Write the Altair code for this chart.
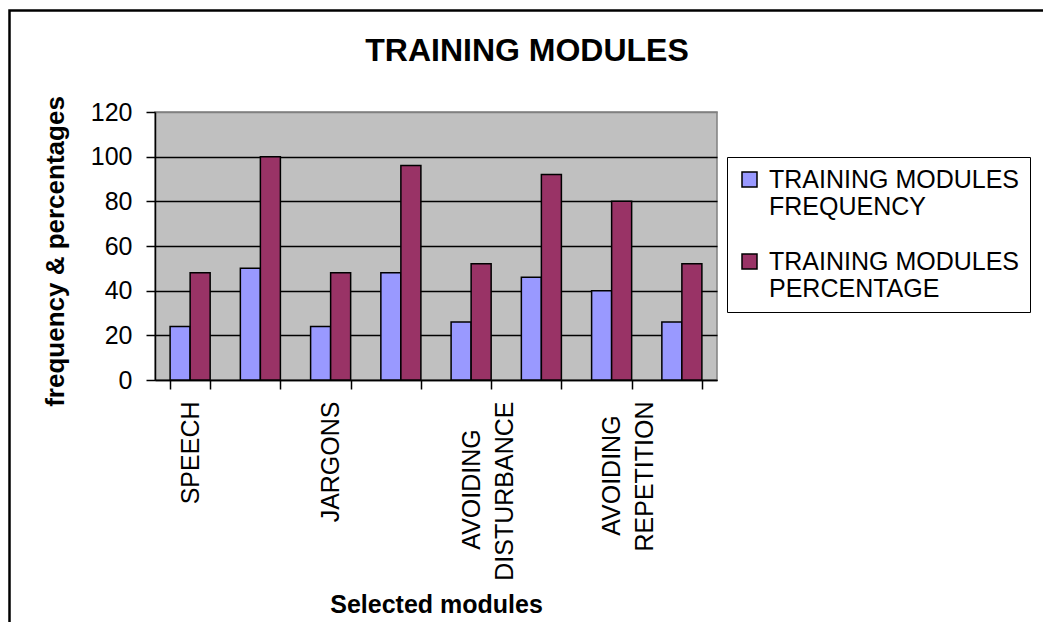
import json
import altair as alt
import pandas as pd

# ---- data ----
modules = ["SPEECH", "", "JARGONS", "", "AVOIDING DISTURBANCE", "", "AVOIDING REPETITION", ""]
frequency = [24, 50, 24, 48, 26, 46, 40, 26]
percentage = [48, 100, 48, 96, 52, 92, 80, 52]
series_names = ["TRAINING MODULES FREQUENCY", "TRAINING MODULES PERCENTAGE"]
series_colors = ["#9999FF", "#993366"]
y_ticks = [0, 20, 40, 60, 80, 100, 120]

rows = []
for i, m in enumerate(modules):
    rows.append({"idx": i, "module": m, "series": series_names[0], "value": frequency[i]})
    rows.append({"idx": i, "module": m, "series": series_names[1], "value": percentage[i]})
df = pd.DataFrame(rows)

FONT = "Liberation Sans"
NBSP = "\u00a0"
ZWSP = "\u200b"  # keeps the padding from being trimmed

# approximate Arial advance widths (em) for centring the shorter line
_W = {"A": .667, "B": .667, "C": .722, "D": .722, "E": .667, "G": .778, "I": .278,
      "N": .722, "O": .778, "P": .667, "R": .722, "S": .667, "T": .611, "U": .722, "V": .667}


def _width(s):
    return sum(_W.get(c, .667) for c in s)


def label_lines(name):
    # split two-word labels onto two lines, centre the shorter line (labels are end-aligned)
    if not name:
        return [""]
    parts = name.split(" ")
    if len(parts) == 1:
        return parts
    a, b = parts[0], " ".join(parts[1:])
    pad = max(0, round((_width(b) - _width(a)) / 2 / 0.278))
    return [a + NBSP * pad + ZWSP, b]


x_label_expr = json.dumps([label_lines(m) for m in modules], ensure_ascii=False) + "[datum.value]"

bars = alt.Chart(df).mark_bar(stroke="black", strokeWidth=1.5).encode(
    x=alt.X(
        "idx:O",
        scale=alt.Scale(paddingInner=0.43, paddingOuter=0.215),
        axis=alt.Axis(
            title="Selected modules",
            titleFont=FONT, titleFontSize=25, titleFontWeight="bold", titleColor="black",
            titleX=281, titleY=232, titleBaseline="alphabetic", titleAnchor="middle",
            labelExpr=x_label_expr,
            labelAngle=-90, labelAlign="right", labelBaseline="middle",
            labelFont=FONT, labelFontSize=25, labelColor="black", labelLineHeight=33,
            labelPadding=12, labelLimit=400,
            tickBand="extent", tickSize=9, tickColor="black", tickWidth=1.5,
            domainColor="black", domainWidth=1.5,
        ),
    ),
    xOffset=alt.XOffset("series:N", sort=series_names),
    y=alt.Y(
        "value:Q",
        scale=alt.Scale(domain=[0, 120], nice=False),
        axis=alt.Axis(
            title="frequency & percentages",
            titleFont=FONT, titleFontSize=26, titleFontWeight="bold", titleColor="black",
            titleX=-92, titleY=139, titleBaseline="alphabetic", titleAngle=-90, titleAnchor="middle",
            values=y_ticks,
            labelFont=FONT, labelFontSize=25, labelColor="black", labelPadding=14,
            tickSize=9, tickColor="black", tickWidth=1.5,
            domainColor="black", domainWidth=1.5,
            grid=True, gridWidth=1.5,
            gridColor={"condition": {"test": "datum.value === 120", "value": "#808080"}, "value": "black"},
        ),
    ),
    color=alt.Color(
        "series:N",
        sort=series_names,
        scale=alt.Scale(domain=series_names, range=series_colors),
        legend=alt.Legend(
            title=None,
            orient="none", legendX=572, legendY=45,
            labelExpr="[slice(datum.label, 0, 16), slice(datum.label, 17)]",
            labelFont=FONT, labelFontSize=25, labelColor="black", labelLimit=400,
            labelOffset=7,
            symbolType="square", symbolSize=225, symbolStrokeColor="black", symbolStrokeWidth=1.5,
            symbolOpacity=1,
            rowPadding=29, padding=10,
            strokeColor="black", fillColor="white",
        ),
    ),
)

frame = alt.Chart(alt.Data(values=[{"f": 1}])).mark_rect(
    fill="white", fillOpacity=0, stroke="black", strokeWidth=2.5
).encode(
    x=alt.value(-145.5), x2=alt.value(910), y=alt.value(-101.5), y2=alt.value(530)
)

chart = alt.layer(frame, bars).properties(
    width=562,
    height=268,
    autosize=alt.AutoSizeParams(type="none"),
    padding={"left": 155, "top": 112, "right": 326, "bottom": 242},
    background="white",
    title=alt.TitleParams(
        "TRAINING MODULES", font=FONT, fontSize=32, fontWeight="bold", color="black",
        anchor="middle", frame="group", baseline="alphabetic", offset=0, dx=91, dy=84,
    ),
).configure_view(
    fill="#C0C0C0", stroke="#808080", strokeWidth=1.5
)

chart.save("out.html", embed_options={"renderer": "svg", "actions": False})
